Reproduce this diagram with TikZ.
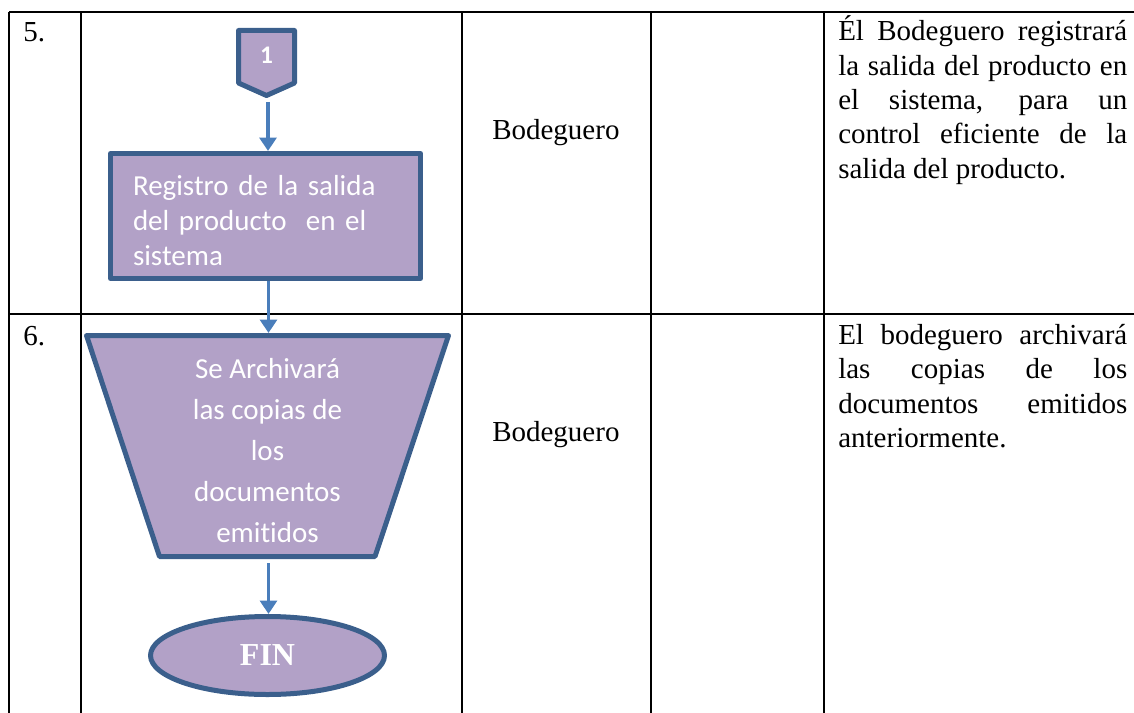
\documentclass[tikz,border=0pt]{standalone}
\usepackage{fontspec}
\setmainfont{Liberation Serif}
\newfontfamily\calfont[Ligatures=NoCommon]{Carlito}
\usetikzlibrary{shapes.geometric,arrows.meta}
\definecolor{boxfill}{HTML}{B2A1C7}
\definecolor{boxline}{HTML}{3B5F8C}
\definecolor{arrowc}{HTML}{4A7EBB}
\begin{document}
\begin{tikzpicture}[x=0.75pt,y=-0.75pt,
  grid/.style={line width=1.5pt, black},
  flow/.style={fill=boxfill, draw=boxline, line width=3.75pt, text=white, line join=round},
  arr/.style={draw=arrowc, line width=2.8pt, -{Triangle[width=12.5pt,length=10pt]}},
  tabtext/.style={anchor=base west, inner sep=0pt, font=\fontsize{21.75pt}{25.8pt}\selectfont},
  calib/.style={font=\calfont\fontsize{21.75pt}{#1}\selectfont},
]
\useasboundingbox (0,0) rectangle (1134,713);
% table grid
\draw[grid] (9,12) -- (1134,12);
\draw[grid] (9,314) -- (1134,314);
\draw[grid] (9,12) -- (9,713);
\draw[grid] (81,12) -- (81,713);
\draw[grid] (462,12) -- (462,713);
\draw[grid] (651,12) -- (651,713);
\draw[grid] (824,12) -- (824,713);
% table texts
\node[tabtext] (n5) at (23,42) {5.};
\node[tabtext] (n6) at (23,345) {6.};
\node[tabtext] (b5) at (492,140) {Bodeguero};
\node[tabtext] (b6) at (492,441) {Bodeguero};
\node[tabtext] (d5a) at (838,41) {\makebox[216.75pt][s]{Él Bodeguero registrará}};
\node[tabtext] (d5b) at (838,75.5) {\makebox[216.75pt][s]{la salida del producto en}};
\node[tabtext] (d5c) at (838,110) {\makebox[216.75pt][s]{el sistema, para un}};
\node[tabtext] (d5d) at (838,144) {\makebox[216.75pt][s]{control eficiente de la}};
\node[tabtext] (d5e) at (838,178.5) {salida del producto.};
\node[tabtext] (d6a) at (838,344) {\makebox[216.75pt][s]{El bodeguero archivará}};
\node[tabtext] (d6b) at (838,378.5) {\makebox[216.75pt][s]{las copias de los}};
\node[tabtext] (d6c) at (838,413) {\makebox[216.75pt][s]{documentos emitidos}};
\node[tabtext] (d6d) at (838,447.5) {anteriormente.};
% off-page connector
\draw[flow] (238.5,30.5) -- (294.5,30.5) -- (294.5,83) -- (266.5,95.5) -- (238.5,83) -- cycle;
\node[text=white, font=\calfont\bfseries\fontsize{19pt}{22pt}\selectfont, inner sep=0pt] (c1) at (266.5,55) {1};
\coordinate (c1out) at (268,102);
% process box
\node[flow, rectangle, minimum width=232.5pt, minimum height=93.75pt, inner sep=0pt,
      align=left, text width=198.75pt, calib=26.25pt] (r) at (265.5,216)
  {\rule{0pt}{21.75pt}Registro de la salida\\del producto~ en el\\sistema};
% trapezoid (manual operation)
\draw[flow] (86.5,335.5) -- (448.5,335.5) -- (375,556.5) -- (159.5,556.5) -- cycle;
\coordinate (ttop) at (268.5,333);
\coordinate (tbot) at (268.5,559);
\node[text=white, inner sep=0pt, align=center, calib=30.75pt] (t) at (267.5,448)
  {\rule{0pt}{19pt}Se Archivará\\las copias de\\los\\documentos\\emitidos};
% end ellipse
\node[flow, ellipse, minimum width=175.5pt, minimum height=58.5pt, inner sep=0pt,
      font=\bfseries\fontsize{24pt}{28pt}\selectfont] (e) at (267.5,655.5) {\raisebox{-4.5pt}{FIN}};
% connectors
\draw[arr] (c1out) -- (c1out |- r.north);
\draw[arr] (r.south -| ttop) -- (ttop);
\draw[arr] ([yshift=-3]tbot) -- (tbot |- e.north);
\end{tikzpicture}
\end{document}
